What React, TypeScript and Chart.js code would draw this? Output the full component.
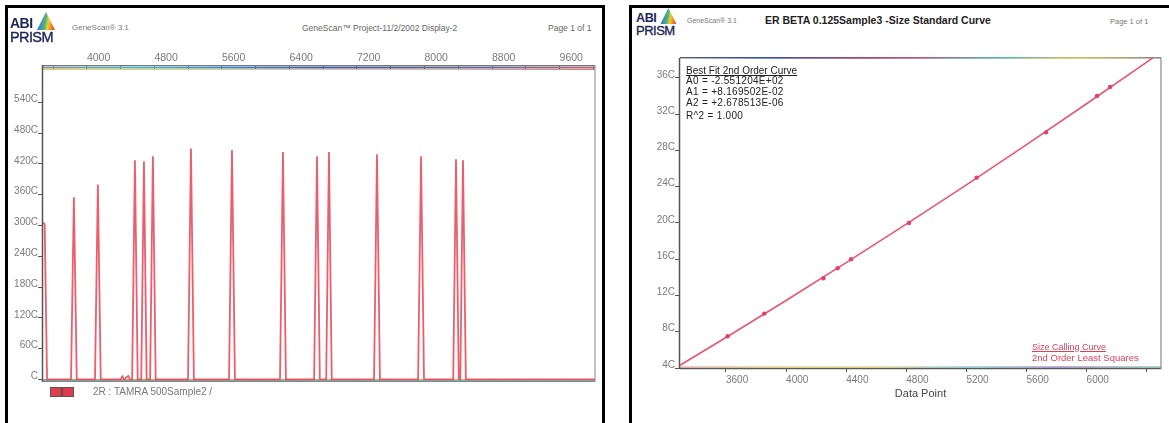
import React, { useEffect, useRef } from "react";
import { Chart, registerables } from "chart.js";

Chart.register(...registerables);

const FONT = "'Liberation Sans', Arial, Helvetica, sans-serif";

// ---------- Left panel: electropherogram (2R : TAMRA 500Sample2) ----------
const traceDataPoint = [
  3480, 3500, 3528, 3812, 3846, 3880, 4096, 4130, 4164, 4400, 4420, 4440, 4490, 4510,
  4536, 4569, 4602, 4644, 4676, 4708, 4749, 4782, 4815, 5198, 5233, 5268, 5684, 5719,
  5754, 6288, 6323, 6358, 6692, 6726, 6760, 6835, 6868, 6901, 7402, 7437, 7472, 7924,
  7959, 7994, 8340, 8373, 8406, 8424, 8456, 8490, 10020,
];
const traceIntensity = [
  3060, 3020, 0, 0, 3550, 0, 0, 3800, 0, 0, 60, 0, 70, 0,
  0, 4270, 0, 0, 4250, 0, 0, 4350, 0, 0, 4500, 0, 0, 4470,
  0, 0, 4430, 0, 0, 4350, 0, 0, 4430, 0, 0, 4390, 0, 0,
  4350, 0, 0, 4290, 0, 0, 4270, 0, 0,
];
const leftXTickValues = [3600, 4000, 4400, 4800, 5200, 5600, 6000, 6400, 6800, 7200, 7600, 8000, 8400, 8800, 9200, 9600, 10000];
const leftXLabelValues = [4000, 4800, 5600, 6400, 7200, 8000, 8800, 9600];
const leftYTickValues = [0, 600, 1200, 1800, 2400, 3000, 3600, 4200, 4800, 5400];
const leftYTickLabels = ["C", "60C", "120C", "180C", "240C", "300C", "360C", "420C", "480C", "540C"];

// ---------- Right panel: size standard curve ----------
const curveDataPoint = [3294, 3600, 4000, 4400, 4800, 5200, 5600, 6000, 6400, 6495];
const curveSize = [43.1, 73.7, 114.5, 156.2, 198.7, 242.1, 286.4, 331.5, 377.5, 388.5];
const standardDataPoint = [3611, 3855, 4248, 4343, 4432, 4818, 5268, 5730, 6069, 6156];
const standardSize = [75, 100, 139, 150, 160, 200, 250, 300, 340, 350];
const rightXTickValues = [3600, 4000, 4400, 4800, 5200, 5600, 6000, 6400];
const rightXTickLabels = ["3600", "4000", "4400", "4800", "5200", "5600", "6000", ""];
const rightYTickValues = [40, 80, 120, 160, 200, 240, 280, 320, 360];
const rightYTickLabels = ["4C", "8C", "12C", "16C", "20C", "24C", "28C", "32C", "36C"];

function grad(ctx: CanvasRenderingContext2D, x0: number, x1: number, stops: string[]) {
  const g = ctx.createLinearGradient(x0, 0, x1, 0);
  stops.forEach((c, i) => g.addColorStop(i / (stops.length - 1), c));
  return g;
}
function seg(ctx: CanvasRenderingContext2D, x0: number, y0: number, x1: number, y1: number) {
  ctx.beginPath();
  ctx.moveTo(x0, y0);
  ctx.lineTo(x1, y1);
  ctx.stroke();
}

const leftDecor = {
  id: "leftDecor",
  beforeDatasetsDraw(chart: any) {
    const { ctx, chartArea: a } = chart;
    ctx.save();
    ctx.lineWidth = 1;
    ctx.strokeStyle = "#777";
    seg(ctx, a.left, a.top - 4.5, a.right, a.top - 4.5);
    ctx.lineWidth = 2;
    ctx.strokeStyle = grad(ctx, a.left, a.right, ["#8a8f9a", "#4fb3c6", "#3f86c4", "#4a55a0", "#55608a", "#6a6a90", "#b06a7a"]);
    seg(ctx, a.left, a.top - 2.5, a.right, a.top - 2.5);
    ctx.lineWidth = 1;
    ctx.strokeStyle = grad(ctx, a.left, a.right, ["#e8cf5a", "#e6d070", "#c8c8b0", "#d9b0b0", "#e07070"]);
    seg(ctx, a.left, a.top - 0.5, a.right, a.top - 0.5);
    // bottom
    ctx.lineWidth = 1;
    ctx.strokeStyle = grad(ctx, a.left, a.right, ["#8fb870", "#d4b060", "#a8b878", "#e0c060", "#f0d060"]);
    seg(ctx, a.left, a.bottom - 1.5, a.right, a.bottom - 1.5);
    ctx.strokeStyle = grad(ctx, a.left, a.right, ["#70a8b0", "#8aa0a0", "#70b0c0", "#60b8c8"]);
    seg(ctx, a.left, a.bottom - 0.5, a.right, a.bottom - 0.5);
    ctx.strokeStyle = "#888";
    seg(ctx, a.left, a.bottom + 0.5, a.right, a.bottom + 0.5);
    // left and right
    ctx.lineWidth = 1.5;
    ctx.strokeStyle = "#555";
    seg(ctx, a.left - 0.5, a.top - 5, a.left - 0.5, a.bottom + 1);
    ctx.lineWidth = 1.2;
    ctx.strokeStyle = "#9a9a9a";
    seg(ctx, a.right, a.top - 5, a.right, a.bottom + 1);
    ctx.restore();
  },
};

const rightDecor = {
  id: "rightDecor",
  beforeDatasetsDraw(chart: any) {
    const { ctx, chartArea: a } = chart;
    ctx.save();
    ctx.lineWidth = 1;
    ctx.strokeStyle = grad(ctx, a.left, a.right, ["#555a70", "#3a50a0", "#8a4a8a", "#d05070", "#50b8c8", "#d0c060", "#888"]);
    seg(ctx, a.left, a.top - 0.5, a.right, a.top - 0.5);
    ctx.strokeStyle = grad(ctx, a.left, a.right, ["#c0c0d0", "#7090c0", "#c07090", "#80c0c8", "#e0d080", "#bbb"]);
    seg(ctx, a.left, a.top + 0.5, a.right, a.top + 0.5);
    // bottom
    ctx.lineWidth = 1.5;
    ctx.strokeStyle = "#5a5a5a";
    seg(ctx, a.left, a.bottom + 0.5, a.right, a.bottom + 0.5);
    ctx.lineWidth = 1;
    ctx.strokeStyle = grad(ctx, a.left, a.right, ["#d89090", "#e0c050", "#e0c850", "#60b8c8", "#8060b0", "#60b090"]);
    seg(ctx, a.left, a.bottom - 1, a.right, a.bottom - 1);
    // left, right
    ctx.lineWidth = 1.5;
    ctx.strokeStyle = "#555";
    seg(ctx, a.left - 0.5, a.top, a.left - 0.5, a.bottom + 1);
    ctx.lineWidth = 1.2;
    ctx.strokeStyle = "#8a8a8a";
    seg(ctx, a.right, a.top, a.right, a.bottom + 1);
    ctx.restore();
  },
};

function LeftChart() {
  const ref = useRef<HTMLCanvasElement>(null);
  useEffect(() => {
    if (!ref.current) return;
    const chart = new Chart(ref.current, {
      type: "line",
      data: {
        datasets: [
          {
            data: traceDataPoint.map((x, i) => ({ x, y: traceIntensity[i] })),
            borderColor: "rgba(232,72,88,0.88)",
            borderWidth: 1.8,
            pointRadius: 0,
            tension: 0,
            fill: false,
          },
        ],
      },
      options: {
        animation: false,
        responsive: false,
        devicePixelRatio: 1,
        events: [],
        layout: { padding: { left: 0, right: 8, top: 0, bottom: 9 } },
        plugins: { legend: { display: false }, tooltip: { enabled: false } },
        scales: {
          x: {
            type: "linear",
            position: "top",
            min: 3480,
            max: 10020,
            afterBuildTicks: (s: any) => {
              s.ticks = leftXTickValues.map((v) => ({ value: v }));
            },
            afterFit: (s: any) => {
              s.height = 30;
            },
            border: { display: false },
            grid: { drawOnChartArea: false, drawTicks: true, tickLength: 4, color: "#666", tickWidth: 1 },
            ticks: {
              autoSkip: false,
              maxRotation: 0,
              align: "start",
              padding: 2,
              color: "#7a7a7a",
              font: { family: FONT, size: 10.5 },
              callback: (v: any) => (leftXLabelValues.includes(Number(v)) ? String(v) : ""),
            },
          },
          y: {
            type: "linear",
            min: -30,
            max: 6030,
            afterBuildTicks: (s: any) => {
              s.ticks = leftYTickValues.map((v) => ({ value: v }));
            },
            afterFit: (s: any) => {
              s.width = 35;
            },
            border: { display: false },
            grid: { drawOnChartArea: false, drawTicks: true, tickLength: 5, color: "#555", tickWidth: 1 },
            ticks: {
              autoSkip: false,
              padding: 0,
              labelOffset: -3,
              color: "#7a7a7a",
              font: { family: FONT, size: 10 },
              callback: (_v: any, i: number) => leftYTickLabels[i],
            },
          },
        },
      },
      plugins: [leftDecor],
    } as any);
    return () => chart.destroy();
  }, []);
  return <canvas ref={ref} width={595} height={350} style={{ position: "absolute", left: 8, top: 40, width: 595, height: 350 }} />;
}

function RightChart() {
  const ref = useRef<HTMLCanvasElement>(null);
  useEffect(() => {
    if (!ref.current) return;
    const chart = new Chart(ref.current, {
      type: "line",
      data: {
        datasets: [
          {
            data: standardDataPoint.map((x, i) => ({ x, y: standardSize[i] })),
            showLine: false,
            pointRadius: 2.2,
            pointStyle: "circle",
            pointBackgroundColor: "#e4406a",
            pointBorderColor: "#e4406a",
            pointBorderWidth: 0,
          },
          {
            data: curveDataPoint.map((x, i) => ({ x, y: curveSize[i] })),
            borderColor: "rgba(232,70,100,0.92)",
            borderWidth: 1.6,
            pointRadius: 0,
            tension: 0,
            fill: false,
          },
        ],
      },
      options: {
        animation: false,
        responsive: false,
        devicePixelRatio: 1,
        events: [],
        layout: { padding: { left: 0, right: 8, top: 18, bottom: 0 } },
        plugins: { legend: { display: false }, tooltip: { enabled: false } },
        scales: {
          x: {
            type: "linear",
            position: "bottom",
            min: 3294,
            max: 6495,
            afterBuildTicks: (s: any) => {
              s.ticks = rightXTickValues.map((v) => ({ value: v }));
            },
            afterFit: (s: any) => {
              s.height = 44;
            },
            border: { display: false },
            grid: { drawOnChartArea: false, drawTicks: true, tickLength: 4, color: "#555", tickWidth: 1 },
            ticks: {
              autoSkip: false,
              maxRotation: 0,
              align: "start",
              padding: 2,
              color: "#7a7a7a",
              font: { family: FONT, size: 10 },
              callback: (_v: any, i: number) => rightXTickLabels[i],
            },
            title: {
              display: true,
              text: "Data Point",
              color: "#444",
              font: { family: FONT, size: 11 },
              padding: { top: 0, bottom: 11 },
            },
          },
          y: {
            type: "linear",
            min: 40,
            max: 382,
            afterBuildTicks: (s: any) => {
              s.ticks = rightYTickValues.map((v) => ({ value: v }));
            },
            afterFit: (s: any) => {
              s.width = 47;
            },
            border: { display: false },
            grid: { drawOnChartArea: false, drawTicks: true, tickLength: 5, color: "#555", tickWidth: 1 },
            ticks: {
              autoSkip: false,
              padding: 0,
              labelOffset: -3,
              color: "#7a7a7a",
              font: { family: FONT, size: 10 },
              callback: (_v: any, i: number) => rightYTickLabels[i],
            },
          },
        },
      },
      plugins: [rightDecor],
    } as any);
    return () => chart.destroy();
  }, []);
  return <canvas ref={ref} width={536} height={372} style={{ position: "absolute", left: 633, top: 40, width: 536, height: 372 }} />;
}

function Txt(props: { x: number; y: number; size: number; children: React.ReactNode; color?: string; bold?: boolean; underline?: boolean; spacing?: number }) {
  const { x, y, size, children, color, bold, underline, spacing } = props;
  return (
    <div
      style={{
        position: "absolute",
        left: x,
        top: y - size * 0.6,
        fontSize: size,
        lineHeight: 1.2,
        whiteSpace: "nowrap",
        color: color || "#666",
        fontWeight: bold ? 700 : 400,
        textDecoration: underline ? "underline" : "none",
        letterSpacing: spacing || 0,
        fontFamily: FONT,
        zIndex: 2,
      }}
    >
      {children}
    </div>
  );
}

function Logo(props: { x: number; y: number; scale: number }) {
  const { x, y, scale } = props;
  return (
    <div style={{ position: "absolute", left: x, top: y, width: 50, height: 32, transform: `scale(${scale})`, transformOrigin: "0 0", zIndex: 2 }}>
      <div
        style={{
          position: "absolute",
          left: 27,
          top: 0,
          width: 18,
          height: 18,
          clipPath: "polygon(50% 0, 100% 100%, 0 100%)",
          background: "linear-gradient(100deg, #2e4fb0 0%, #3a8fd0 30%, #58b868 48%, #f0d030 62%, #f08a28 78%, #e03838 100%)",
        }}
      />
      <div style={{ position: "absolute", left: 0, top: 4, fontSize: 14, lineHeight: "14px", fontWeight: 700, color: "#1c2557", fontFamily: FONT, letterSpacing: -0.5 }}>ABI</div>
      <div style={{ position: "absolute", left: 0, top: 18, fontSize: 14.5, lineHeight: "14px", fontWeight: 400, color: "#1c2557", fontFamily: FONT, letterSpacing: -0.6, WebkitTextStroke: "0.4px #1c2557" }}>PRISM</div>
    </div>
  );
}

export default function App() {
  return (
    <div style={{ position: "fixed", left: 0, top: 0, width: 1169, height: 423, overflow: "hidden", background: "#fff", fontFamily: FONT }}>
      {/* frames */}
      <div style={{ position: "absolute", left: 5, top: 5, width: 600, height: 440, border: "3px solid #000", boxSizing: "border-box" }} />
      <div style={{ position: "absolute", left: 629, top: 5, width: 560, height: 440, border: "3px solid #000", boxSizing: "border-box" }} />

      {/* left header */}
      <Logo x={10} y={12} scale={1} />
      <Txt x={72} y={28} size={8} color="#777">GeneScan® 3.1</Txt>
      <Txt x={302} y={28} size={8.5} color="#666">GeneScan™ Project-11/2/2002 Display-2</Txt>
      <Txt x={548} y={28} size={8.5} color="#666">Page 1 of 1</Txt>
      <LeftChart />
      <div style={{ position: "absolute", left: 50, top: 387, width: 10, height: 8, background: "#e23c4c", border: "1px solid #555", zIndex: 2 }} />
      <div style={{ position: "absolute", left: 62, top: 387, width: 10, height: 8, background: "#e23c4c", border: "1px solid #555", zIndex: 2 }} />
      <Txt x={93} y={392} size={10} color="#777">2R : TAMRA 500Sample2 /</Txt>

      {/* right header */}
      <Logo x={636} y={8} scale={0.9} />
      <Txt x={687} y={21} size={7} color="#777">GeneScan® 3.1</Txt>
      <Txt x={765} y={20} size={10.5} color="#222" bold>ER BETA 0.125Sample3 -Size Standard Curve</Txt>
      <Txt x={1110} y={21} size={7.5} color="#777">Page 1 of 1</Txt>
      <RightChart />
      <Txt x={686} y={71} size={10} color="#222" underline>Best Fit 2nd Order Curve</Txt>
      <Txt x={686} y={81} size={10} color="#222" spacing={0.3}>A0 = -2.551204E+02</Txt>
      <Txt x={686} y={92} size={10} color="#222" spacing={0.3}>A1 = +8.169502E-02</Txt>
      <Txt x={686} y={103} size={10} color="#222" spacing={0.3}>A2 = +2.678513E-06</Txt>
      <Txt x={686} y={116} size={10} color="#222" spacing={0.3}>R^2 = 1.000</Txt>
      <Txt x={1032} y={347} size={9} color="#e0405a" underline>Size Calling Curve</Txt>
      <Txt x={1032} y={358} size={9.5} color="#e0405a">2nd Order Least Squares</Txt>
    </div>
  );
}
